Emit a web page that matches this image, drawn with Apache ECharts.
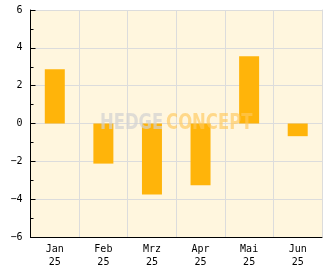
<!DOCTYPE html>
<html>
<head>
    <meta charset="utf-8">
    <title>Monatsrenditen</title>
    <script src="https://cdn.jsdelivr.net/npm/echarts@6/dist/echarts.min.js"></script>
    <style>
        html, body { margin: 0; padding: 0; background: #fff; }
        #chart { width: 332px; height: 269px; }
    </style>
</head>
<body>
<div id="chart"></div>
<script>
    // Monate und Werte
    var months = ['Jan\n25', 'Feb\n25', 'Mrz\n25', 'Apr\n25', 'Mai\n25', 'Jun\n25'];
    var values = [2.87, -2.12, -3.75, -3.27, 3.55, -0.67];
    var yTicks = [-6, -4, -2, 0, 2, 4, 6];

    var myChart = echarts.init(document.getElementById('chart'));
    var mono = 'DejaVu Sans Mono';
    var gridGrey = '#dcdcdc';

    myChart.setOption({
        animation: false,
        grid: {
            left: 30.5, right: 10, top: 10, bottom: 32,
            show: true,
            backgroundColor: '#fff6de',
            borderWidth: 0
        },
        xAxis: [{
            type: 'category',
            data: months,
            axisLine: { onZero: false, lineStyle: { color: '#000', width: 1 } },
            axisTick: { inside: true, length: 5, lineStyle: { color: '#000' } },
            axisLabel: { color: '#000', fontFamily: mono, fontSize: 10, lineHeight: 13, margin: 6 },
            splitLine: { show: false },
            z: 10
        }, {
            // obere Rahmenlinie + senkrechte Gitterlinien
            type: 'category',
            data: months,
            position: 'top',
            axisLine: { onZero: false, lineStyle: { color: gridGrey } },
            axisTick: { show: false },
            axisLabel: { show: false },
            splitLine: { show: true, lineStyle: { color: gridGrey } },
            z: 1
        }],
        yAxis: [{
            type: 'value',
            position: 'left',
            min: yTicks[0],
            max: yTicks[yTicks.length - 1],
            interval: 2,
            axisLine: { show: true, onZero: false, lineStyle: { color: '#000', width: 1 } },
            axisTick: { show: true, inside: true, length: 5, lineStyle: { color: '#000' } },
            minorTick: { show: true, splitNumber: 2, length: 3, lineStyle: { color: '#000' } },
            axisLabel: {
                color: '#000', fontFamily: mono, fontSize: 10, margin: 8,
                formatter: function (v) { return String(v).replace('-', '\u2212'); }
            },
            splitLine: { show: false },
            z: 10
        }, {
            // rechte Rahmenlinie + waagerechte Gitterlinien
            type: 'value',
            min: yTicks[0],
            max: yTicks[yTicks.length - 1],
            interval: 2,
            position: 'right',
            axisLine: { show: true, onZero: false, lineStyle: { color: gridGrey } },
            axisTick: { show: false },
            axisLabel: { show: false },
            splitLine: { show: true, lineStyle: { color: gridGrey } },
            z: 1
        }],
        series: [{
            type: 'bar',
            data: values,
            barWidth: 20,
            itemStyle: { color: '#ffb40a' },
            z: 3
        }],
        graphic: [{
            type: 'text',
            left: 100,
            top: 112,
            scaleX: 0.83,
            z: 100,
            style: {
                text: '{a|HEDGE} {b|CONCEPT}',
                rich: {
                    a: { fontFamily: 'DejaVu Sans Condensed', fontWeight: 'bold', fontSize: 22, fill: 'rgba(210,210,210,0.7)' },
                    b: { fontFamily: 'DejaVu Sans Condensed', fontWeight: 'bold', fontSize: 22, fill: 'rgba(255,200,90,0.65)' }
                }
            }
        }]
    });
</script>
</body>
</html>
